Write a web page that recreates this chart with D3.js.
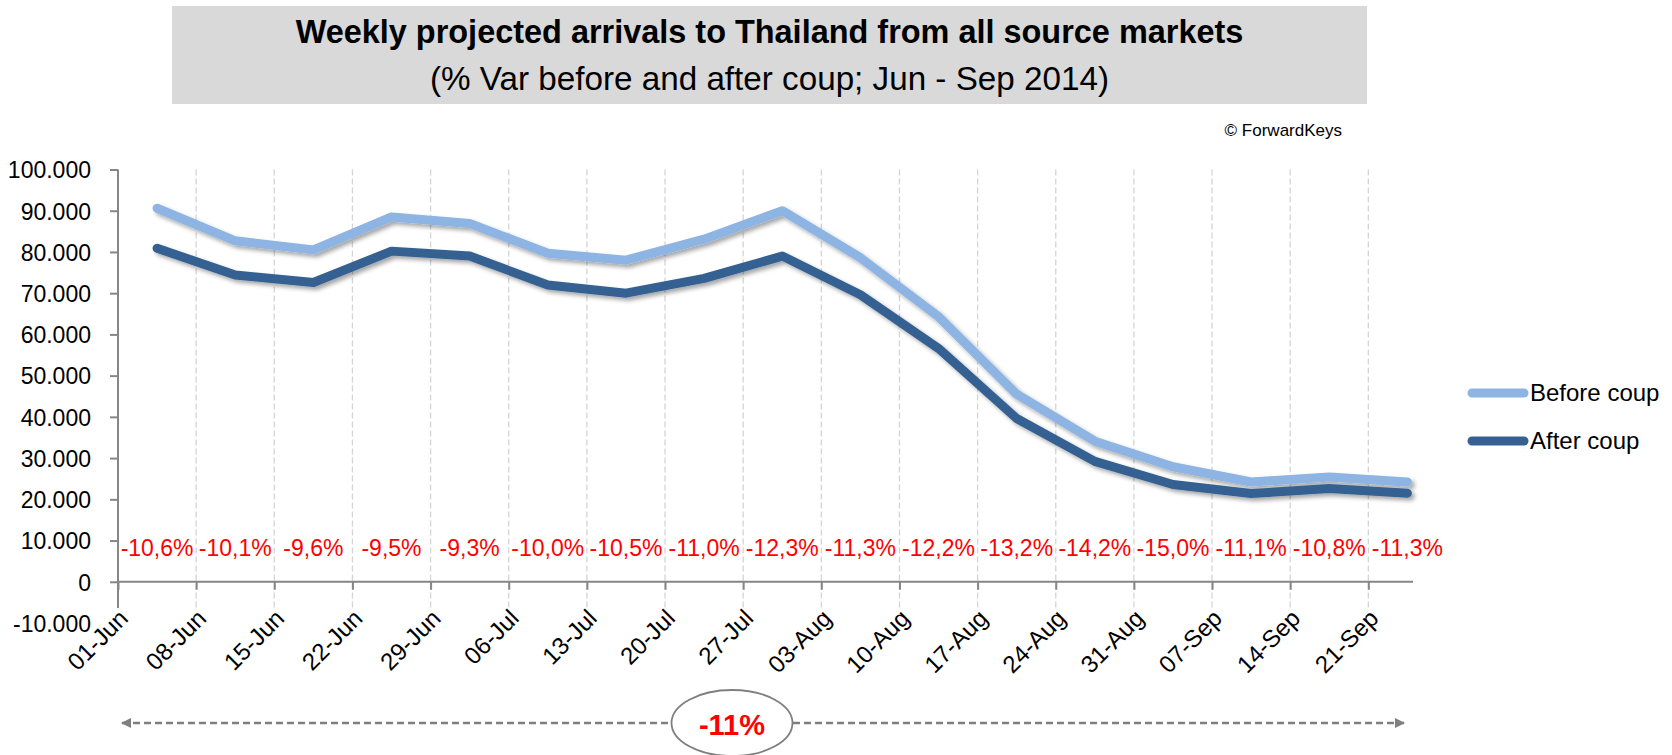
<!DOCTYPE html>
<html>
<head>
<meta charset="utf-8">
<script src="https://cdn.jsdelivr.net/npm/d3@7"></script>
<style>
  body { margin: 0; background: #fff; }
  text { font-family: "Liberation Sans", Arial, sans-serif; }
</style>
</head>
<body>
<svg id="chart" width="1672" height="755"></svg>
<script>
// weekly points (mid-week)
var weeks = ["2014-06-04", "2014-06-11", "2014-06-18", "2014-06-25", "2014-07-02", "2014-07-09",
             "2014-07-16", "2014-07-23", "2014-07-30", "2014-08-06", "2014-08-13", "2014-08-20",
             "2014-08-27", "2014-09-03", "2014-09-10", "2014-09-17", "2014-09-24"];
var beforeCoup = [90600, 82700, 80500, 88500, 86900, 79700, 78000, 83100, 90000,
                  78600, 64300, 45500, 34100, 27900, 24200, 25400, 24200];
var afterCoup = [80900, 74400, 72600, 80200, 79000, 72000, 70000, 73600, 79000,
                 69600, 56600, 39600, 29200, 23600, 21400, 22600, 21500];
var varLabels = ["-10,6%", "-10,1%", "-9,6%", "-9,5%", "-9,3%", "-10,0%", "-10,5%", "-11,0%", "-12,3%",
                 "-11,3%", "-12,2%", "-13,2%", "-14,2%", "-15,0%", "-11,1%", "-10,8%", "-11,3%"];
var tickDates = ["2014-06-01", "2014-06-08", "2014-06-15", "2014-06-22", "2014-06-29", "2014-07-06",
                 "2014-07-13", "2014-07-20", "2014-07-27", "2014-08-03", "2014-08-10", "2014-08-17",
                 "2014-08-24", "2014-08-31", "2014-09-07", "2014-09-14", "2014-09-21"];
var yTicks = [-10000, 0, 10000, 20000, 30000, 40000, 50000, 60000, 70000, 80000, 90000, 100000];
var seriesNames = ["Before coup", "After coup"];
var averageLabel = "-11%";

var colors = ["#8db4e2", "#366092"];
var parseDay = d3.timeParse("%Y-%m-%d");
var parseNoon = d3.timeParse("%Y-%m-%d %H");

let svg = d3.select("svg#chart");

// drop shadow for the series lines
let defs = svg.append("defs");
let f = defs.append("filter").attr("id", "shadow")
    .attr("x", "-5%").attr("y", "-10%").attr("width", "115%").attr("height", "130%");
f.append("feDropShadow").attr("dx", 3).attr("dy", 3).attr("stdDeviation", 2.2)
    .attr("flood-color", "#000").attr("flood-opacity", 0.35);

defs.append("marker").attr("id", "arrow")
    .attr("viewBox", "0 0 10 10").attr("refX", 9).attr("refY", 5)
    .attr("markerWidth", 4).attr("markerHeight", 4)
    .attr("orient", "auto-start-reverse")
    .append("path").attr("d", "M0,0 L10,5 L0,10 z").attr("fill", "#7f7f7f");

// shrink/grow a text to a measured width
function fitWidth(sel, target) {
    let w = sel.node().getComputedTextLength();
    let size = parseFloat(sel.style("font-size"));
    sel.style("font-size", (size * target / w) + "px");
}

// title box
svg.append("rect")
    .attr("x", 172).attr("y", 6).attr("width", 1195).attr("height", 98)
    .attr("fill", "#d9d9d9");

let title = svg.append("text")
    .attr("x", 769.5).attr("y", 43)
    .style("text-anchor", "middle").style("font-weight", "bold").style("font-size", "27px")
    .text("Weekly projected arrivals to Thailand from all source markets");
fitWidth(title, 948);

let subtitle = svg.append("text")
    .attr("x", 769.5).attr("y", 90)
    .style("text-anchor", "middle").style("font-size", "26px")
    .text("(% Var before and after coup; Jun - Sep 2014)");
fitWidth(subtitle, 679);

svg.append("text")
    .attr("x", 1342).attr("y", 136)
    .style("text-anchor", "end").style("font-size", "17px")
    .text("\u00A9 ForwardKeys");

// scales
let xScale = d3.scaleTime()
    .domain([parseDay("2014-06-01"), parseDay("2014-09-25")])
    .range([118, 1413]);

let yScale = d3.scaleLinear()
    .domain([-10000, 100000])
    .range([623, 169.5]);

let axisBottomY = 608;
let zeroY = yScale(0);

// vertical dashed gridlines
svg.append("g")
    .selectAll("line")
    .data(tickDates.slice(1))
    .enter().append("line")
    .attr("x1", d => xScale(parseDay(d))).attr("x2", d => xScale(parseDay(d)))
    .attr("y1", yScale(100000)).attr("y2", axisBottomY)
    .attr("stroke", "#d4d4d4").attr("stroke-width", 1.3)
    .attr("stroke-dasharray", "6,3");

// y axis
let fmt = d3.formatLocale({ decimal: ",", thousands: ".", grouping: [3], currency: ["", ""], minus: "-" }).format(",");
let yAxis = d3.axisLeft(yScale).tickValues(yTicks).tickSize(8).tickPadding(19).tickFormat(fmt);
let yGroup = svg.append("g").attr("transform", "translate(118,0)").call(yAxis);
yGroup.select(".domain").remove();
yGroup.selectAll(".tick line").attr("stroke", "#868686").attr("stroke-width", 2)
    .filter(d => d < 0).remove();
yGroup.selectAll(".tick text")
    .style("font-size", "23px").style("font-family", "Liberation Sans, Arial, sans-serif")
    .attr("fill", "#000").attr("dy", "0.36em");
svg.append("line")
    .attr("x1", 118).attr("x2", 118).attr("y1", yScale(100000)).attr("y2", axisBottomY)
    .attr("stroke", "#868686").attr("stroke-width", 2);

// x axis on the zero line
let xAxis = d3.axisBottom(xScale)
    .tickValues(tickDates.map(parseDay))
    .tickSize(8)
    .tickFormat(d3.timeFormat("%d-%b"));
let xGroup = svg.append("g").attr("transform", "translate(0," + zeroY + ")").call(xAxis);
xGroup.select(".domain").attr("stroke", "#868686").attr("stroke-width", 2)
    .attr("d", "M118,0H1413");
xGroup.selectAll(".tick line").attr("stroke", "#868686").attr("stroke-width", 2);
xGroup.selectAll(".tick text")
    .style("font-size", "24px").style("font-family", "Liberation Sans, Arial, sans-serif")
    .attr("fill", "#000")
    .style("text-anchor", "end")
    .attr("y", 0).attr("dy", 0)
    .attr("transform", "translate(11,38) rotate(-45)");

// series lines
let line = d3.line()
    .x((d, i) => xScale(parseNoon(weeks[i] + " 12")))
    .y(d => yScale(d));

[beforeCoup, afterCoup].forEach(function(values, k) {
    svg.append("path")
        .attr("d", line(values))
        .attr("fill", "none")
        .attr("stroke", colors[k])
        .attr("stroke-width", 9)
        .attr("stroke-linecap", "round")
        .attr("stroke-linejoin", "round")
        .attr("filter", "url(#shadow)");
});

// % variation labels
svg.append("g")
    .selectAll("text")
    .data(varLabels)
    .enter().append("text")
    .attr("x", (d, i) => xScale(parseNoon(weeks[i] + " 12")))
    .attr("y", 556)
    .style("text-anchor", "middle").style("font-size", "23px")
    .attr("fill", "#ff0000")
    .text(d => d);

// legend
seriesNames.forEach(function(name, k) {
    let ly = 393 + k * 48;
    svg.append("line")
        .attr("x1", 1472).attr("x2", 1524).attr("y1", ly).attr("y2", ly)
        .attr("stroke", colors[k]).attr("stroke-width", 9).attr("stroke-linecap", "round");
    svg.append("text")
        .attr("x", 1530).attr("y", ly + 8)
        .style("font-size", "24px")
        .text(name);
});

// average arrow at the bottom
let arrowY = 723;
svg.append("line")
    .attr("x1", 122).attr("x2", 1404).attr("y1", arrowY).attr("y2", arrowY)
    .attr("stroke", "#7f7f7f").attr("stroke-width", 2.5)
    .attr("stroke-dasharray", "7,4")
    .attr("marker-start", "url(#arrow)").attr("marker-end", "url(#arrow)");

svg.append("ellipse")
    .attr("cx", 732).attr("cy", 723).attr("rx", 60.5).attr("ry", 33)
    .attr("fill", "#fff").attr("stroke", "#7f7f7f").attr("stroke-width", 1.8);

svg.append("text")
    .attr("x", 732).attr("y", 735)
    .style("text-anchor", "middle").style("font-weight", "bold").style("font-size", "29px")
    .attr("fill", "#ff0000")
    .text(averageLabel);
</script>
</body>
</html>
